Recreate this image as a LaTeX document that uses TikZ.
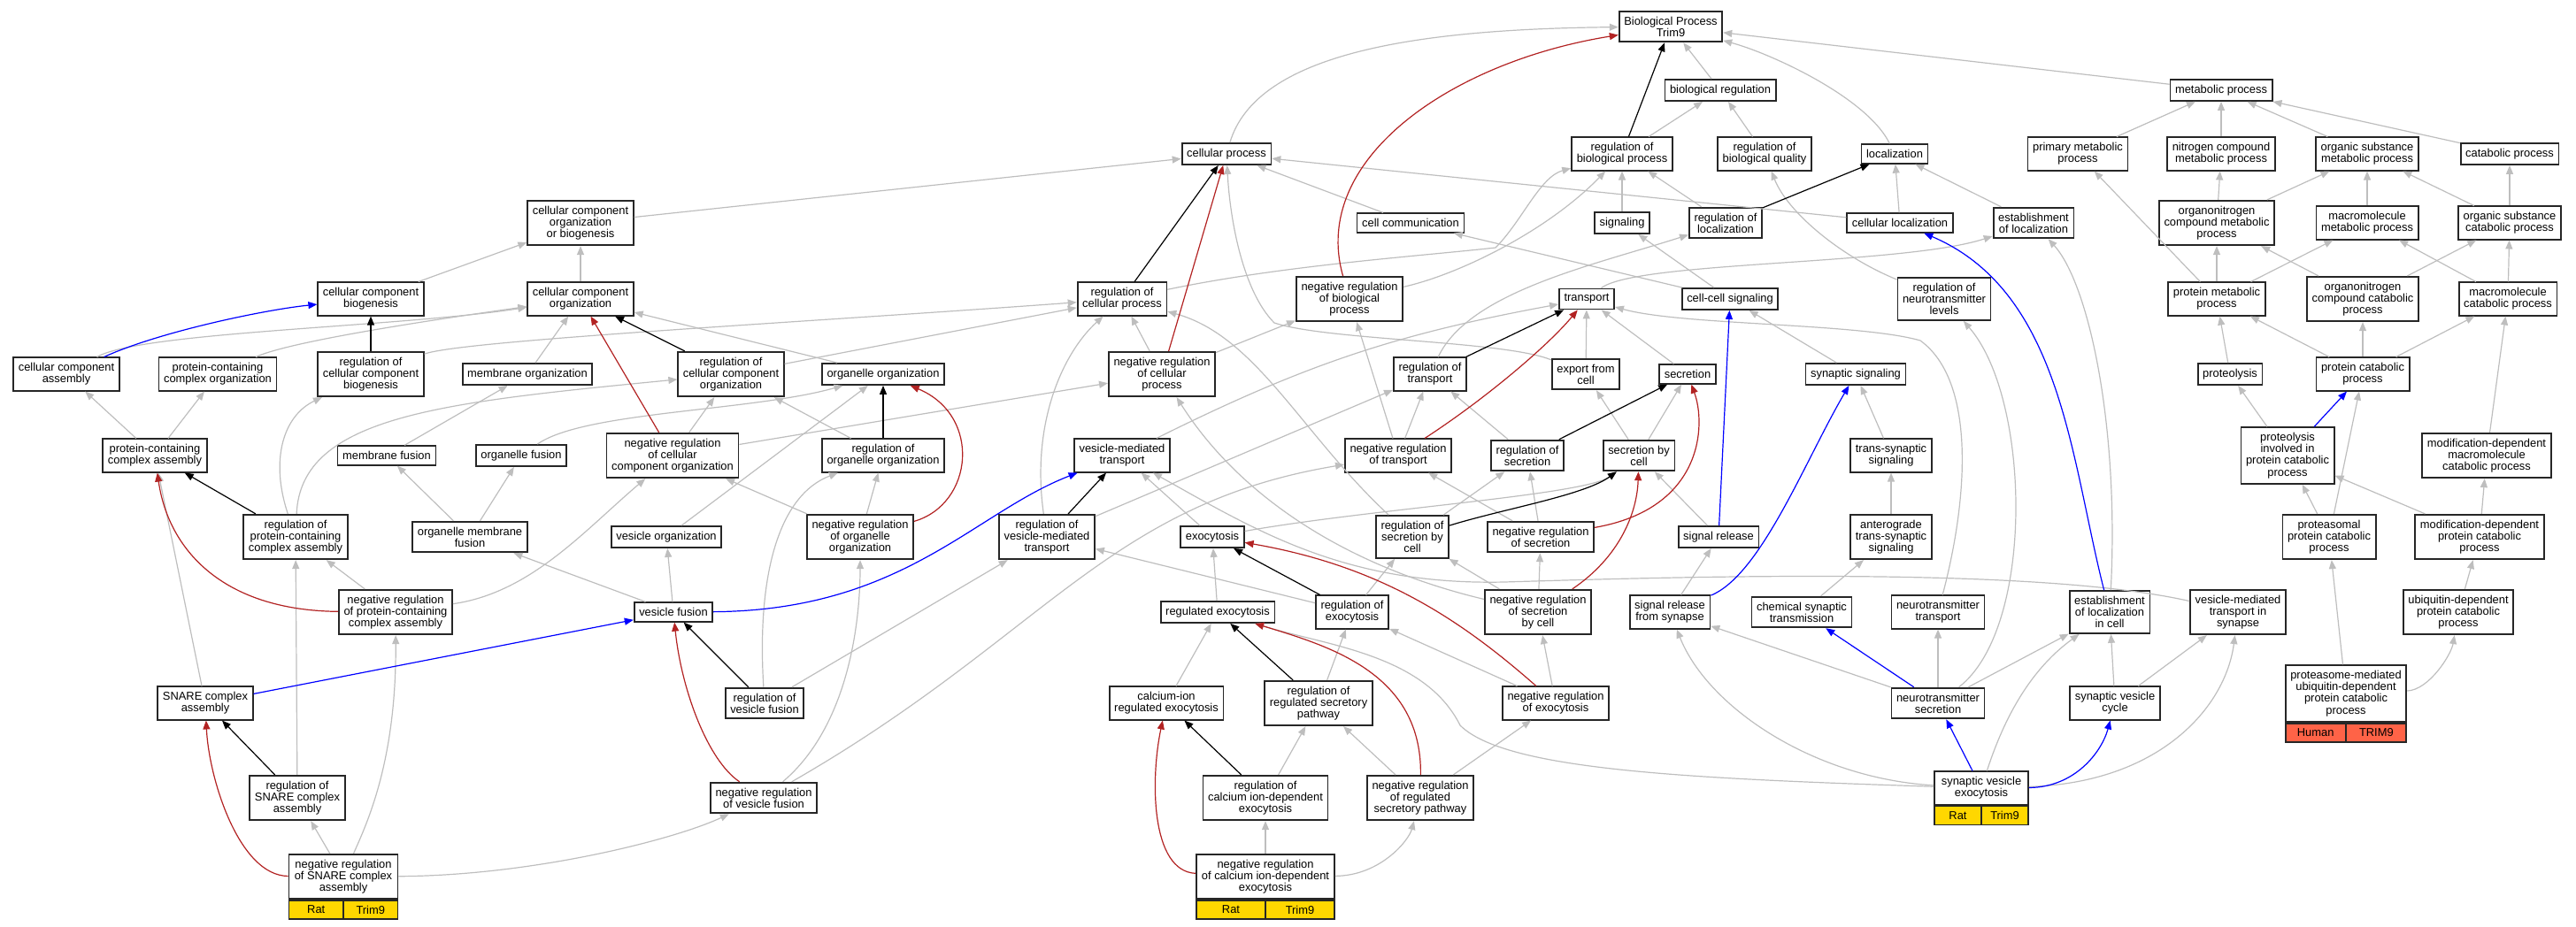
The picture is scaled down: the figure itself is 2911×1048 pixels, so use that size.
\documentclass[tikz,border=0pt]{standalone}
\usepackage{fontspec}
\setmainfont{Liberation Sans}
\usetikzlibrary{arrows.meta}
\definecolor{edgegray}{RGB}{190,190,190}
\definecolor{negred}{RGB}{178,34,34}
\definecolor{partblue}{RGB}{0,0,255}
\definecolor{ratgold}{RGB}{255,215,0}
\definecolor{humantomato}{RGB}{255,99,71}
\newcommand{\gofont}{\fontsize{6.45}{6.6}\selectfont}

\begin{document}
\begin{tikzpicture}[x=0.5pt,y=-0.5pt,
   term/.style={draw=black!85,line width=0.9pt,fill=white,align=center,inner xsep=2.8pt,inner ysep=3pt,font=\gofont},
   tag/.style={draw=black!85,line width=0.9pt,minimum height=10.5pt,inner sep=0pt,font=\gofont},
   isa/.style={draw=edgegray,line width=0.6pt,-{Triangle[length=5pt,width=4pt]}},
   reg/.style={isa,draw=black},
   negreg/.style={isa,draw=negred},
   partof/.style={isa,draw=partblue}]
   \useasboundingbox (0,0) rectangle (2911,1048);
   % terms, row by row
   \node[term] (bp) at (1888,30) {Biological Process\\Trim9};
   \node[term] (breg) at (1944,102) {biological regulation};
   \node[term] (metab) at (2510,102) {metabolic process};
   \node[term] (cellproc) at (1386,174) {cellular process};
   \node[term] (regbio) at (1833,174) {regulation of\\biological process};
   \node[term] (regqual) at (1994,174) {regulation of\\biological quality};
   \node[term] (loc) at (2141,174) {localization};
   \node[term] (primmet) at (2348,174) {primary metabolic\\process};
   \node[term] (nitmet) at (2510,174) {nitrogen compound\\metabolic process};
   \node[term] (orgmet) at (2675,174) {organic substance\\metabolic process};
   \node[term] (catab) at (2836,174) {catabolic process};
   \node[term] (ccob) at (656,252) {cellular component\\organization\\or biogenesis};
   \node[term] (cellcomm) at (1594,252) {cell communication};
   \node[term] (signaling) at (1833,252) {signaling};
   \node[term] (regloc) at (1950,252) {regulation of\\localization};
   \node[term] (cellloc) at (2147,252) {cellular localization};
   \node[term] (estloc) at (2298,252) {establishment\\of localization};
   \node[term] (onmet) at (2505,252) {organonitrogen\\compound metabolic\\process};
   \node[term] (macmet) at (2675,252) {macromolecule\\metabolic process};
   \node[term] (orgcat) at (2836,252) {organic substance\\catabolic process};
   \node[term] (ccbio) at (419,338) {cellular component\\biogenesis};
   \node[term] (ccorg) at (656,338) {cellular component\\organization};
   \node[term] (regcp) at (1268,338) {regulation of\\cellular process};
   \node[term] (negbio) at (1525,338) {negative regulation\\of biological\\process};
   \node[term] (transport) at (1793,338) {transport};
   \node[term] (ccsig) at (1955,338) {cell-cell signaling};
   \node[term] (regnt) at (2197,338) {regulation of\\neurotransmitter\\levels};
   \node[term] (protmet) at (2505,338) {protein metabolic\\process};
   \node[term] (oncat) at (2670,338) {organonitrogen\\compound catabolic\\process};
   \node[term] (maccat) at (2834,338) {macromolecule\\catabolic process};
   \node[term] (ccasm) at (75,423) {cellular component\\assembly};
   \node[term] (pcorg) at (246,423) {protein-containing\\complex organization};
   \node[term] (regccb) at (419,423) {regulation of\\cellular component\\biogenesis};
   \node[term] (memorg) at (596,423) {membrane organization};
   \node[term] (regcco) at (826,423) {regulation of\\cellular component\\organization};
   \node[term] (orgorg) at (998,423) {organelle organization};
   \node[term] (negcp) at (1313,423) {negative regulation\\of cellular\\process};
   \node[term] (regtr) at (1616,423) {regulation of\\transport};
   \node[term] (export) at (1792,423) {export from\\cell};
   \node[term] (secretion) at (1907,423) {secretion};
   \node[term] (synsig) at (2097,423) {synaptic signaling};
   \node[term] (proteolysis) at (2520,423) {proteolysis};
   \node[term] (protcat) at (2670,423) {protein catabolic\\process};
   \node[term] (pcasm) at (175,515) {protein-containing\\complex assembly};
   \node[term] (memfus) at (437,515) {membrane fusion};
   \node[term] (orgfus) at (589,515) {organelle fusion};
   \node[term] (negcco) at (760,515) {negative regulation\\of cellular\\component organization};
   \node[term] (regoo) at (998,515) {regulation of\\organelle organization};
   \node[term] (vmt) at (1268,515) {vesicle-mediated\\transport};
   \node[term] (negtr) at (1580,515) {negative regulation\\of transport};
   \node[term] (regsec) at (1726,515) {regulation of\\secretion};
   \node[term] (secbc) at (1852,515) {secretion by\\cell};
   \node[term] (trans) at (2137,515) {trans-synaptic\\signaling};
   \node[term] (protpcp) at (2585,515) {proteolysis\\involved in\\protein catabolic\\process};
   \node[term] (moddmc) at (2810,515) {modification-dependent\\macromolecule\\catabolic process};
   \node[term] (regpca) at (334,607) {regulation of\\protein-containing\\complex assembly};
   \node[term] (orgmf) at (531,607) {organelle membrane\\fusion};
   \node[term] (vesorg) at (753,607) {vesicle organization};
   \node[term] (negoo) at (972,607) {negative regulation\\of organelle\\organization};
   \node[term] (regvmt) at (1183,607) {regulation of\\vesicle-mediated\\transport};
   \node[term] (exo) at (1370,607) {exocytosis};
   \node[term] (regsbc) at (1596,607) {regulation of\\secretion by\\cell};
   \node[term] (negsec) at (1741,607) {negative regulation\\of secretion};
   \node[term] (sigrel) at (1942,607) {signal release};
   \node[term] (antero) at (2137,607) {anterograde\\trans-synaptic\\signaling};
   \node[term] (proteas) at (2632,607) {proteasomal\\protein catabolic\\process};
   \node[term] (moddp) at (2802,607) {modification-dependent\\protein catabolic\\process};
   \node[term] (negpca) at (447,692) {negative regulation\\of protein-containing\\complex assembly};
   \node[term] (vesfus) at (761,692) {vesicle fusion};
   \node[term] (regexo) at (1376,692) {regulated exocytosis};
   \node[term] (regofexo) at (1528,692) {regulation of\\exocytosis};
   \node[term] (negsbc) at (1738,692) {negative regulation\\of secretion\\by cell};
   \node[term] (sigsyn) at (1887,692) {signal release\\from synapse};
   \node[term] (chemsyn) at (2036,692) {chemical synaptic\\transmission};
   \node[term] (nttr) at (2190,692) {neurotransmitter\\transport};
   \node[term] (estcell) at (2384,692) {establishment\\of localization\\in cell};
   \node[term] (vmtsyn) at (2529,692) {vesicle-mediated\\transport in\\synapse};
   \node[term] (ubiq) at (2778,692) {ubiquitin-dependent\\protein catabolic\\process};
   \node[term] (snare) at (232,795) {SNARE complex\\assembly};
   \node[term] (regvf) at (864,795) {regulation of\\vesicle fusion};
   \node[term] (caexo) at (1318,795) {calcium-ion\\regulated exocytosis};
   \node[term] (regrsp) at (1490,795) {regulation of\\regulated secretory\\pathway};
   \node[term] (negexo) at (1758,795) {negative regulation\\of exocytosis};
   \node[term] (ntsec) at (2190,795) {neurotransmitter\\secretion};
   \node[term] (svc) at (2390,795) {synaptic vesicle\\cycle};
   \node[term,minimum width=68pt] (proteasome) at (2651,784) {proteasome-mediated\\ubiquitin-dependent\\protein catabolic\\process};
   \node[term] (regsnare) at (336,902) {regulation of\\SNARE complex\\assembly};
   \node[term] (negvf) at (863,902) {negative regulation\\of vesicle fusion};
   \node[term] (regcide) at (1430,902) {regulation of\\calcium ion-dependent\\exocytosis};
   \node[term] (negrsp) at (1605,902) {negative regulation\\of regulated\\secretory pathway};
   \node[term,minimum width=53pt] (sve) at (2239,891) {synaptic vesicle\\exocytosis};
   \node[term,minimum width=61.5pt] (negsnare) at (388,991) {negative regulation\\of SNARE complex\\assembly};
   \node[term,minimum width=78pt] (negcide) at (1430,991) {negative regulation\\of calcium ion-dependent\\exocytosis};
   % species tags
   \node[tag,fill=ratgold,minimum width=30.75pt,anchor=north west] (negsnareA) at (negsnare.south west) {Rat};
   \node[tag,fill=ratgold,minimum width=30.75pt,anchor=north east] (negsnareB) at (negsnare.south east) {Trim9};
   \node[tag,fill=ratgold,minimum width=39pt,anchor=north west] (negcideA) at (negcide.south west) {Rat};
   \node[tag,fill=ratgold,minimum width=39pt,anchor=north east] (negcideB) at (negcide.south east) {Trim9};
   \node[tag,fill=ratgold,minimum width=26.5pt,anchor=north west] (sveA) at (sve.south west) {Rat};
   \node[tag,fill=ratgold,minimum width=26.5pt,anchor=north east] (sveB) at (sve.south east) {Trim9};
   \node[tag,fill=humantomato,minimum width=34pt,anchor=north west] (proteasomeA) at (proteasome.south west) {Human};
   \node[tag,fill=humantomato,minimum width=34pt,anchor=north east] (proteasomeB) at (proteasome.south east) {TRIM9};
   % is_a
   \draw[isa] (cellproc) .. controls (1420,60) and (1600,33) .. (bp);
   \draw[isa] (breg) -- (bp);
   \draw[isa] (loc) .. controls (2110,110) and (2000,60) .. (bp);
   \draw[isa] (metab) -- (bp);
   \draw[isa] (regbio) -- (breg);
   \draw[isa] (regqual) -- (breg);
   \draw[isa] (primmet) -- (metab);
   \draw[isa] (nitmet) -- (metab);
   \draw[isa] (orgmet) -- (metab);
   \draw[isa] (catab) -- (metab);
   \draw[isa] (ccob) -- (cellproc);
   \draw[isa] (cellcomm) -- (cellproc);
   \draw[isa] (cellloc) -- (cellproc);
   \draw[isa] (export) .. controls (1700,385) and (1500,385) .. (1440,365) .. controls (1405,330) and (1390,250) .. (cellproc);
   \draw[isa] (signaling) -- (regbio);
   \draw[isa] (regloc) -- (regbio);
   \draw[isa] (regcp) .. controls (1450,300) and (1600,290) .. (1690,280) .. controls (1720,250) and (1740,200) .. (regbio);
   \draw[isa] (negbio) .. controls (1650,310) and (1750,260) .. (regbio);
   \draw[isa] (cellloc) -- (loc);
   \draw[isa] (estloc) -- (loc);
   \draw[isa] (regnt) .. controls (2080,290) and (2020,240) .. (regqual);
   \draw[isa] (onmet) -- (nitmet);
   \draw[isa] (onmet) -- (orgmet);
   \draw[isa] (macmet) -- (orgmet);
   \draw[isa] (orgcat) -- (orgmet);
   \draw[isa] (orgcat) -- (catab);
   \draw[isa] (ccbio) -- (ccob);
   \draw[isa] (ccorg) -- (ccob);
   \draw[isa] (ccsig) -- (cellcomm);
   \draw[isa] (ccsig) -- (signaling);
   \draw[isa] (regtr) .. controls (1660,330) and (1800,300) .. (regloc);
   \draw[isa] (transport) .. controls (1850,295) and (2150,300) .. (estloc);
   \draw[isa] (estcell) .. controls (2395,480) and (2360,320) .. (estloc);
   \draw[isa] (protmet) -- (onmet);
   \draw[isa] (protmet) -- (macmet);
   \draw[isa] (protmet) -- (primmet);
   \draw[isa] (oncat) -- (onmet);
   \draw[isa] (oncat) -- (orgcat);
   \draw[isa] (maccat) -- (macmet);
   \draw[isa] (maccat) -- (orgcat);
   \draw[isa] (ccasm) .. controls (160,375) and (450,370) .. (ccorg);
   \draw[isa] (pcorg) .. controls (330,385) and (500,360) .. (ccorg);
   \draw[isa] (memorg) -- (ccorg);
   \draw[isa] (orgorg) -- (ccorg);
   \draw[isa] (regccb) .. controls (520,385) and (900,365) .. (regcp);
   \draw[isa] (regcco) -- (regcp);
   \draw[isa] (regvmt) .. controls (1165,480) and (1200,400) .. (regcp);
   \draw[isa] (negcp) -- (regcp);
   \draw[isa] (regsbc) .. controls (1470,490) and (1420,380) .. (regcp);
   \draw[isa] (negcp) -- (negbio);
   \draw[isa] (negtr) -- (negbio);
   \draw[isa] (vmt) to[bend left=8] (transport);
   \draw[isa] (export) -- (transport);
   \draw[isa] (secretion) -- (transport);
   \draw[isa] (nttr) .. controls (2225,560) and (2232,430) .. (2170,385) .. controls (2100,365) and (1900,368) .. (transport);
   \draw[isa] (synsig) -- (ccsig);
   \draw[isa] (ntsec) .. controls (2300,710) and (2295,450) .. (regnt);
   \draw[isa] (proteolysis) -- (protmet);
   \draw[isa] (protcat) -- (protmet);
   \draw[isa] (protcat) -- (oncat);
   \draw[isa] (protcat) -- (maccat);
   \draw[isa] (pcasm) -- (ccasm);
   \draw[isa] (pcasm) -- (pcorg);
   \draw[isa] (regpca) .. controls (305,520) and (320,470) .. (regccb);
   \draw[isa] (memfus) -- (memorg);
   \draw[isa] (regpca) .. controls (340,470) and (500,455) .. (regcco);
   \draw[isa] (negcco) -- (regcco);
   \draw[isa] (regoo) -- (regcco);
   \draw[isa] (orgfus) .. controls (660,465) and (850,465) .. (orgorg);
   \draw[isa] (vesorg) -- (orgorg);
   \draw[isa] (negcco) -- (negcp);
   \draw[isa] (negsbc) .. controls (1520,640) and (1400,560) .. (negcp);
   \draw[isa] (negtr) -- (regtr);
   \draw[isa] (regvmt) -- (regtr);
   \draw[isa] (regsec) -- (regtr);
   \draw[isa] (secbc) -- (export);
   \draw[isa] (secbc) -- (secretion);
   \draw[isa] (trans) -- (synsig);
   \draw[isa] (protpcp) -- (proteolysis);
   \draw[isa] (moddmc) -- (maccat);
   \draw[isa] (snare) -- (pcasm);
   \draw[isa] (orgmf) -- (memfus);
   \draw[isa] (orgmf) -- (orgfus);
   \draw[isa] (negpca) .. controls (600,670) and (660,600) .. (negcco);
   \draw[isa] (negoo) -- (negcco);
   \draw[isa] (negoo) -- (regoo);
   \draw[isa] (regvf) .. controls (855,650) and (880,560) .. (regoo);
   \draw[isa] (exo) -- (vmt);
   \draw[isa] (vmtsyn) .. controls (2300,640) and (1900,652) .. (1700,658) .. controls (1520,662) and (1420,600) .. (vmt);
   \draw[isa] (negsec) -- (negtr);
   \draw[isa] (negvf) .. controls (1180,720) and (1250,570) .. (negtr);
   \draw[isa] (regsbc) -- (regsec);
   \draw[isa] (negsec) -- (regsec);
   \draw[isa] (sigrel) -- (secbc);
   \draw[isa] (exo) .. controls (1550,575) and (1790,560) .. (secbc);
   \draw[isa] (antero) -- (trans);
   \draw[isa] (proteas) -- (protpcp);
   \draw[isa] (proteas) -- (protcat);
   \draw[isa] (moddp) -- (protpcp);
   \draw[isa] (moddp) -- (moddmc);
   \draw[isa] (regsnare) -- (regpca);
   \draw[isa] (negpca) -- (regpca);
   \draw[isa] (vesfus) -- (orgmf);
   \draw[isa] (vesfus) -- (vesorg);
   \draw[isa] (negvf) .. controls (960,820) and (972,700) .. (negoo);
   \draw[isa] (regvf) -- (regvmt);
   \draw[isa] (regofexo) -- (regvmt);
   \draw[isa] (regexo) -- (exo);
   \draw[isa] (regofexo) -- (regsbc);
   \draw[isa] (negsbc) -- (regsbc);
   \draw[isa] (negsbc) -- (negsec);
   \draw[isa] (sigsyn) -- (sigrel);
   \draw[isa] (chemsyn) -- (antero);
   \draw[isa] (ubiq) -- (moddp);
   \draw[isa] (negsnare) .. controls (415,930) and (448,860) .. (negpca);
   \draw[isa] (negsnare) -- (regsnare);
   \draw[isa] (negsnare) .. controls (600,990) and (760,950) .. (negvf);
   \draw[isa] (caexo) -- (regexo);
   \draw[isa] (regrsp) -- (regofexo);
   \draw[isa] (negexo) -- (regofexo);
   \draw[isa] (negexo) -- (negsbc);
   \draw[isa] (ntsec) -- (sigsyn);
   \draw[isa] (ntsec) -- (nttr);
   \draw[isa] (ntsec) -- (estcell);
   \draw[isa] (svc) -- (estcell);
   \draw[isa] (svc) -- (vmtsyn);
   \draw[isa] (sve) .. controls (2050,880) and (1930,800) .. (sigsyn);
   \draw[isa] (sve) .. controls (2262,820) and (2290,760) .. (estcell);
   \draw[isa] (sve) .. controls (2440,885) and (2515,800) .. (vmtsyn);
   \draw[isa] (sve) .. controls (1900,880) and (1700,870) .. (1650,820) .. controls (1610,740) and (1500,730) .. (regexo);
   \draw[isa] (regcide) -- (regrsp);
   \draw[isa] (negrsp) -- (regrsp);
   \draw[isa] (negrsp) -- (negexo);
   \draw[isa] (negcide) -- (regcide);
   \draw[isa] (negcide) .. controls (1560,990) and (1592,950) .. (negrsp);
   \draw[isa] (proteasome) -- (proteas);
   \draw[isa] (proteasome) .. controls (2745,780) and (2770,740) .. (ubiq);
   % part_of
   \draw[partof] (ccasm) .. controls (180,375) and (300,350) .. (ccbio);
   \draw[partof] (snare) -- (vesfus);
   \draw[partof] (vesfus) .. controls (1020,690) and (1100,580) .. (vmt);
   \draw[partof] (sigrel) -- (ccsig);
   \draw[partof] (sigsyn) .. controls (1990,650) and (2040,520) .. (synsig);
   \draw[partof] (ntsec) -- (chemsyn);
   \draw[partof] (estcell) .. controls (2340,520) and (2330,330) .. (cellloc);
   \draw[partof] (protpcp) -- (protcat);
   \draw[partof] (sve) -- (ntsec);
   \draw[partof] (sve) .. controls (2345,890) and (2375,850) .. (svc);
   % regulates
   \draw[reg] (regbio) -- (bp);
   \draw[reg] (regloc) -- (loc);
   \draw[reg] (regcp) -- (cellproc);
   \draw[reg] (regccb) -- (ccbio);
   \draw[reg] (regcco) -- (ccorg);
   \draw[reg] (regoo) -- (orgorg);
   \draw[reg] (regtr) -- (transport);
   \draw[reg] (regsec) -- (secretion);
   \draw[reg] (regsbc) .. controls (1700,575) and (1790,560) .. (secbc);
   \draw[reg] (regpca) -- (pcasm);
   \draw[reg] (regvmt) -- (vmt);
   \draw[reg] (regofexo) -- (exo);
   \draw[reg] (regrsp) -- (regexo);
   \draw[reg] (regvf) -- (vesfus);
   \draw[reg] (regsnare) -- (snare);
   \draw[reg] (regcide) -- (caexo);
   % negatively regulates
   \draw[negreg] (negbio) .. controls (1480,180) and (1640,70) .. (bp);
   \draw[negreg] (negcp) -- (cellproc);
   \draw[negreg] (negcco) -- (ccorg);
   \draw[negreg] (negoo) .. controls (1100,570) and (1110,470) .. (orgorg);
   \draw[negreg] (negtr) .. controls (1680,450) and (1750,390) .. (transport);
   \draw[negreg] (negsec) .. controls (1925,575) and (1928,480) .. (secretion);
   \draw[negreg] (negsbc) .. controls (1830,630) and (1850,580) .. (secbc);
   \draw[negreg] (negpca) .. controls (250,690) and (190,620) .. (pcasm);
   \draw[negreg] (negexo) .. controls (1650,700) and (1560,640) .. (exo);
   \draw[negreg] (negrsp) .. controls (1607,760) and (1500,730) .. (regexo);
   \draw[negreg] (negvf) .. controls (800,860) and (770,780) .. (vesfus);
   \draw[negreg] (negsnare) .. controls (270,990) and (236,880) .. (snare);
   \draw[negreg] (negcide) .. controls (1300,985) and (1300,880) .. (caexo);
\end{tikzpicture}
\end{document}
